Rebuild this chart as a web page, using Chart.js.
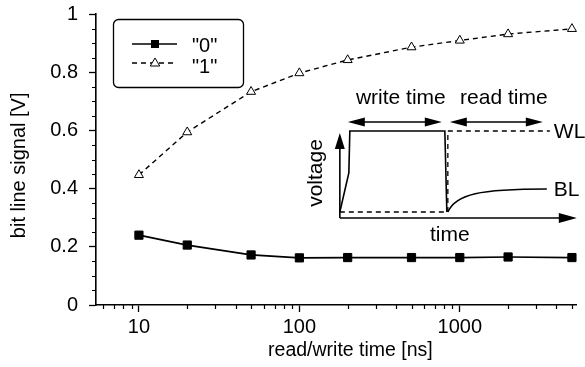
<!DOCTYPE html>
<html>
<head>
<meta charset="utf-8">
<script src="https://cdn.jsdelivr.net/npm/chart.js@4.4.1/dist/chart.umd.min.js"></script>
<style>
  html, body { margin: 0; padding: 0; background: #fff; }
  #wrap { width: 585px; height: 367px; }
</style>
</head>
<body>
<div id="wrap"><canvas id="chart"></canvas></div>
<script>
// read/write time [ns] and bit line signal [V]
var times = [10, 20, 50, 100, 200, 500, 1000, 2000, 5000];
var signal0 = [0.240, 0.206, 0.172, 0.162, 0.163, 0.163, 0.163, 0.165, 0.163];
var signal1 = [0.447, 0.594, 0.733, 0.797, 0.842, 0.886, 0.909, 0.931, 0.949];
var seriesNames = ['"0"', '"1"'];
var xTitle = 'read/write time [ns]';
var yTitle = 'bit line signal [V]';

var xMajor = [10, 100, 1000];
var xMinor = [6, 7, 8, 9, 20, 30, 40, 50, 60, 70, 80, 90,
              200, 300, 400, 500, 600, 700, 800, 900, 2000, 3000, 4000, 5000];
var yMajor = [0, 0.2, 0.4, 0.6, 0.8, 1];
var yMinor = [0.05, 0.1, 0.15, 0.25, 0.3, 0.35, 0.45, 0.5, 0.55,
              0.65, 0.7, 0.75, 0.85, 0.9, 0.95];

var FONT = '"Liberation Sans", Arial, Helvetica, sans-serif';

function toPoints(ys) {
    return times.map(function(t, i) { return {x: t, y: ys[i]}; });
}

// minor ticks on both axes + axis titles
var axisExtras = {
    id: 'axisExtras',
    afterDraw: function(chart) {
        var ctx = chart.ctx, xs = chart.scales.x, ys = chart.scales.y;
        ctx.save();
        ctx.strokeStyle = '#000';
        ctx.lineWidth = 1.2;
        ctx.beginPath();
        xMinor.forEach(function(v) {
            var px = Math.round(xs.getPixelForValue(v)) + 0.5;
            ctx.moveTo(px, ys.bottom);
            ctx.lineTo(px, ys.bottom + 4);
        });
        yMinor.forEach(function(v) {
            var py = Math.round(ys.getPixelForValue(v)) + 0.5;
            ctx.moveTo(xs.left, py);
            ctx.lineTo(xs.left - 4, py);
        });
        ctx.stroke();

        ctx.fillStyle = '#000';
        ctx.textAlign = 'center';
        ctx.textBaseline = 'middle';
        ctx.font = '19.5px ' + FONT;
        ctx.fillText(xTitle, xs.left + 0.53 * xs.width, ys.bottom + 46);
        ctx.font = '20px ' + FONT;
        ctx.translate(19, ys.top + 0.52 * ys.height);
        ctx.rotate(-Math.PI / 2);
        ctx.fillText(yTitle, 0, 0);
        ctx.restore();
    }
};

function triangle(ctx, x, y, r) {
    ctx.beginPath();
    ctx.moveTo(x, y - r);
    ctx.lineTo(x + r * 0.95, y + r * 0.6);
    ctx.lineTo(x - r * 0.95, y + r * 0.6);
    ctx.closePath();
}

// boxed legend inside the plot
var boxLegend = {
    id: 'boxLegend',
    afterDraw: function(chart) {
        var ctx = chart.ctx, a = chart.chartArea;
        var bx = a.left + 17, by = a.top + 5, bw = 130, bh = 68;
        ctx.save();
        ctx.strokeStyle = '#000';
        ctx.lineWidth = 1.3;
        ctx.beginPath();
        ctx.roundRect(bx + 0.5, by + 0.5, bw, bh, 5);
        ctx.stroke();

        ctx.lineWidth = 1.7;
        var y0 = by + 25, y1 = by + 44;
        ctx.beginPath();
        ctx.moveTo(bx + 19, y0); ctx.lineTo(bx + 64, y0);
        ctx.stroke();
        ctx.fillStyle = '#000';
        ctx.fillRect(bx + 42 - 4, y0 - 4, 8, 8);

        ctx.lineWidth = 1.4;
        ctx.setLineDash([5, 4]);
        ctx.beginPath();
        ctx.moveTo(bx + 19, y1); ctx.lineTo(bx + 64, y1);
        ctx.stroke();
        ctx.setLineDash([]);
        ctx.fillStyle = '#fff';
        ctx.lineWidth = 1;
        triangle(ctx, bx + 42, y1, 5);
        ctx.fill(); ctx.stroke();

        ctx.fillStyle = '#000';
        ctx.font = '20px ' + FONT;
        ctx.textBaseline = 'middle';
        ctx.textAlign = 'left';
        ctx.fillText(seriesNames[0], bx + 79, y0 + 2);
        ctx.fillText(seriesNames[1], bx + 79, y1 + 4);
        ctx.restore();
    }
};

function arrow(ctx, x0, y0, x1, y1, len, half) {
    var ang = Math.atan2(y1 - y0, x1 - x0);
    var c = Math.cos(ang), s = Math.sin(ang);
    ctx.beginPath();
    ctx.moveTo(x1, y1);
    ctx.lineTo(x1 - len * c - half * s, y1 - len * s + half * c);
    ctx.lineTo(x1 - len * c + half * s, y1 - len * s - half * c);
    ctx.closePath();
    ctx.fill();
}

// schematic of the word line / bit line pulses
var inset = {
    id: 'inset',
    afterDraw: function(chart) {
        var ctx = chart.ctx, a = chart.chartArea;
        var ox = a.left + 0.508 * a.width;
        var oy = a.top + 0.701 * a.height;
        ctx.save();
        ctx.translate(ox, oy);
        ctx.strokeStyle = '#000';
        ctx.fillStyle = '#000';

        // axes
        ctx.lineWidth = 1.6;
        ctx.beginPath();
        ctx.moveTo(0, 0); ctx.lineTo(0, -72);
        ctx.moveTo(0, 0); ctx.lineTo(222, 0);
        ctx.stroke();
        arrow(ctx, 0, 0, 0, -85, 16, 5);
        arrow(ctx, 0, 0, 237, 0, 18, 5);

        // write / read time spans
        ctx.lineWidth = 1.4;
        ctx.beginPath();
        ctx.moveTo(20, -96); ctx.lineTo(90, -96);
        ctx.moveTo(122, -96); ctx.lineTo(191, -96);
        ctx.stroke();
        arrow(ctx, 55, -96, 8, -96, 17, 4.5);
        arrow(ctx, 55, -96, 102, -96, 17, 4.5);
        arrow(ctx, 156, -96, 110, -96, 17, 4.5);
        arrow(ctx, 156, -96, 203, -96, 17, 4.5);

        // solid trace
        ctx.lineWidth = 1.6;
        ctx.beginPath();
        ctx.moveTo(0, -6);
        ctx.lineTo(9, -45);
        ctx.lineTo(10, -87);
        ctx.lineTo(105, -87);
        ctx.lineTo(107, -6);
        ctx.stroke();

        // bit line recovery
        ctx.beginPath();
        ctx.moveTo(108, -6);
        ctx.bezierCurveTo(116, -24, 140, -29, 207, -29);
        ctx.stroke();

        // dashed trace
        ctx.lineWidth = 1.3;
        ctx.setLineDash([5, 4]);
        ctx.beginPath();
        ctx.moveTo(0, -6);
        ctx.lineTo(108, -6);
        ctx.lineTo(108, -87);
        ctx.lineTo(210, -87);
        ctx.stroke();
        ctx.setLineDash([]);

        ctx.font = '21px ' + FONT;
        ctx.textBaseline = 'middle';
        ctx.textAlign = 'center';
        ctx.fillText('write time', 61, -120);
        ctx.fillText('read time', 164, -120);
        ctx.fillText('time', 110, 17);
        ctx.textAlign = 'left';
        ctx.fillText('WL', 214, -86);
        ctx.fillText('BL', 214, -28);
        ctx.save();
        ctx.translate(-24, -45);
        ctx.rotate(-Math.PI / 2);
        ctx.textAlign = 'center';
        ctx.fillText('voltage', 0, 0);
        ctx.restore();
        ctx.restore();
    }
};

new Chart(document.getElementById('chart'), {
    type: 'line',
    data: {
        datasets: [{
            label: seriesNames[0],
            data: toPoints(signal0),
            borderColor: '#000',
            backgroundColor: '#000',
            borderWidth: 1.7,
            pointStyle: 'rect',
            pointRadius: 5.8,
            pointBorderWidth: 1,
            tension: 0
        }, {
            label: seriesNames[1],
            data: toPoints(signal1),
            borderColor: '#000',
            backgroundColor: '#fff',
            borderWidth: 1.4,
            borderDash: [5, 4],
            pointStyle: 'triangle',
            pointRadius: 5.2,
            pointBorderWidth: 1,
            tension: 0
        }]
    },
    options: {
        responsive: true,
        maintainAspectRatio: false,
        animation: false,
        clip: false,
        layout: { padding: { top: 14, right: 9, left: 0, bottom: 0 } },
        plugins: {
            legend: { display: false },
            tooltip: { enabled: false }
        },
        scales: {
            x: {
                type: 'logarithmic',
                min: 5.4,
                max: 5300,
                afterBuildTicks: function(scale) {
                    scale.ticks = xMajor.map(function(v) { return {value: v, major: true}; });
                },
                afterFit: function(scale) {
                    scale.height = 62;
                    scale.paddingLeft = 0;
                    scale.paddingRight = 0;
                },
                ticks: {
                    color: '#000',
                    font: { family: FONT, size: 20 },
                    padding: 3,
                    maxRotation: 0,
                    autoSkip: false,
                    callback: function(v) { return String(v); }
                },
                grid: {
                    display: true,
                    drawOnChartArea: false,
                    tickLength: 7,
                    tickWidth: 1.3,
                    tickColor: '#000'
                },
                border: { display: true, color: '#000', width: 1.6 }
            },
            y: {
                type: 'linear',
                min: 0,
                max: 1,
                afterBuildTicks: function(scale) {
                    scale.ticks = yMajor.map(function(v) { return {value: v}; });
                },
                afterFit: function(scale) {
                    scale.width = 96;
                    scale.paddingTop = 0;
                    scale.paddingBottom = 0;
                },
                ticks: {
                    color: '#000',
                    font: { family: FONT, size: 20 },
                    padding: 11,
                    callback: function(v) { return String(v); }
                },
                grid: {
                    display: true,
                    drawOnChartArea: false,
                    tickLength: 7,
                    tickWidth: 1.3,
                    tickColor: '#000'
                },
                border: { display: true, color: '#000', width: 1.6 }
            }
        }
    },
    plugins: [axisExtras, boxLegend, inset]
});
</script>
</body>
</html>
